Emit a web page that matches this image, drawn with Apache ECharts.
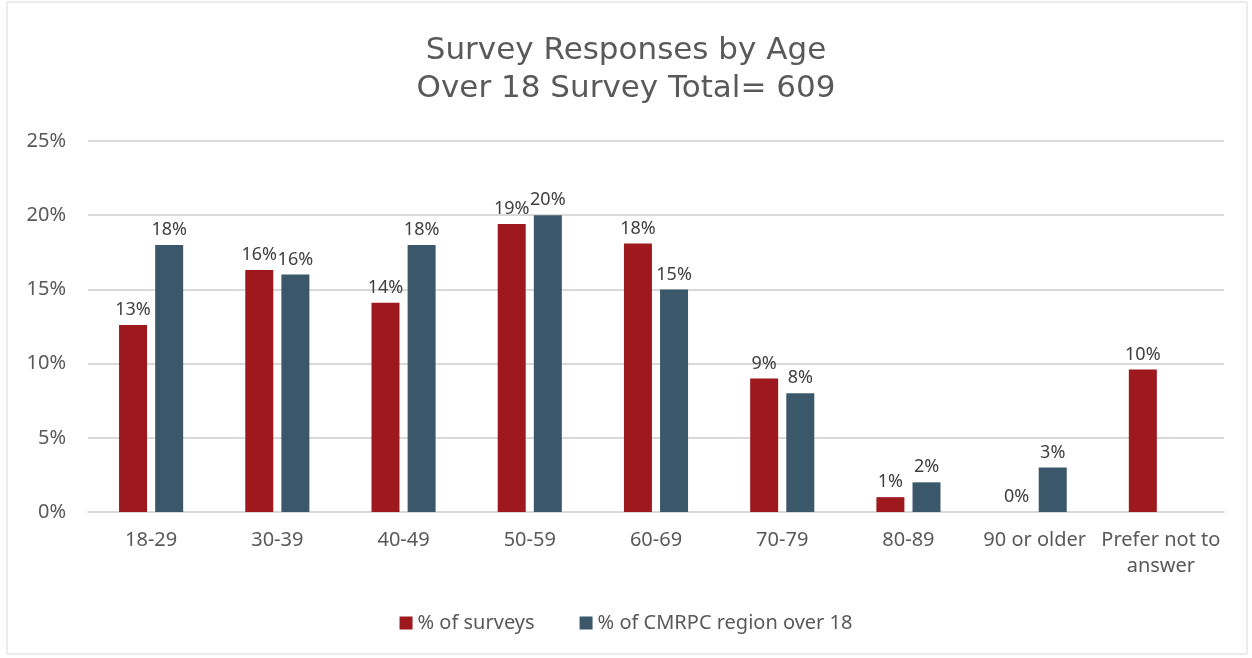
<!DOCTYPE html>
<html>
<head>
<meta charset="utf-8">
<script src="https://cdn.jsdelivr.net/npm/echarts@6/dist/echarts.min.js"></script>
<style>
  html, body { margin: 0; padding: 0; background: #fff; }
  #chart { width: 1252px; height: 658px; }
</style>
</head>
<body>
<div id="chart"></div>
<script>
"use strict";
// values (fractions of 1)
const ages = ["18-29", "30-39", "40-49", "50-59", "60-69", "70-79", "80-89", "90 or older", "Prefer not to\nanswer"];
const surveyPct = [0.126, 0.163, 0.141, 0.194, 0.181, 0.090, 0.010, 0.000, 0.096];
const regionPct = [0.180, 0.160, 0.180, 0.200, 0.150, 0.080, 0.020, 0.030, null];
const seriesNames = ["% of surveys", "% of CMRPC region over 18"];
const titleLines = ["Survey Responses by Age", "Over 18 Survey Total= 609"];

const pct = (v) => Math.round(v * 100) + "%";
const grey = "#595959";
const font = "'Noto Sans', 'DejaVu Sans', sans-serif";

const label = {
  show: true, position: "top", distance: 6, color: "#404040",
  fontFamily: font, fontSize: 18, formatter: (p) => pct(p.value),
};

const chart = echarts.init(document.getElementById("chart"));
chart.setOption({
  backgroundColor: "#fff",
  animation: false,
  title: {
    text: titleLines.join("\n"), left: "center", top: 27,
    textStyle: { color: grey, fontFamily: "'DejaVu Sans', sans-serif", fontSize: 31, fontWeight: "normal", lineHeight: 38 },
  },
  graphic: [{
    type: "rect", shape: { x: 7, y: 2, width: 1240, height: 652 },
    style: { fill: "none", stroke: "#d9d9d9", lineWidth: 1 }, silent: true,
  }],
  legend: {
    bottom: 20, left: "center", itemWidth: 13, itemHeight: 13, itemGap: 45,
    icon: "rect",
    textStyle: { color: grey, fontFamily: font, fontSize: 20 },
    data: seriesNames,
  },
  grid: { left: 88, right: 28, top: 141, bottom: 146, containLabel: false },
  xAxis: {
    type: "category", data: ages,
    axisLine: { lineStyle: { color: "#d9d9d9", width: 2 } },
    axisTick: { show: false },
    axisLabel: { color: grey, fontFamily: font, fontSize: 20, margin: 15, lineHeight: 26, interval: 0 },
  },
  yAxis: {
    type: "value", min: 0, max: 0.25, interval: 0.05,
    axisLine: { show: false }, axisTick: { show: false },
    splitLine: { lineStyle: { color: "#d9d9d9", width: 2 } },
    axisLabel: { color: grey, fontFamily: font, fontSize: 20, margin: 22, formatter: (v) => pct(v) },
  },
  series: [
    { name: seriesNames[0], type: "bar", data: surveyPct, barWidth: 28, barGap: "29%",
      itemStyle: { color: "#9e191e" }, label },
    { name: seriesNames[1], type: "bar", data: regionPct, barWidth: 28,
      itemStyle: { color: "#3b586a" }, label },
  ],
});
</script>
</body>
</html>
